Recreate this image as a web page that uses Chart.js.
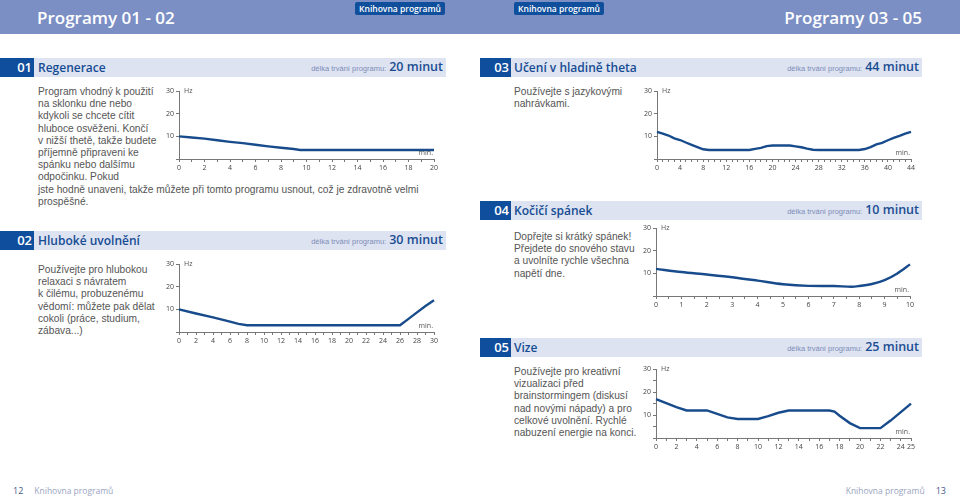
<!DOCTYPE html>
<html>
<head>
<meta charset="utf-8">
<script src="https://cdn.jsdelivr.net/npm/chart.js@4.4.0/dist/chart.umd.min.js"></script>
<style>
  body { margin: 0; width: 960px; height: 500px; position: relative; overflow: hidden; background: #fff; font-family: "Liberation Sans", Arial, sans-serif; }
  .abs { position: absolute; }
  .head { top: 0; height: 34px; background: #7b8fc5; }
  .ptitle { top: 6px; font: 600 17px "Open Sans"; color: #fff; white-space: nowrap; }
  .badge { top: 2px; height: 13px; width: 90px; background: #0f4f9c; color: #fff; font: 600 8.5px "Open Sans"; text-align: center; line-height: 13px; border-radius: 2px; }
  .bar { height: 19px; background: #dde3f1; }
  .num { height: 19px; background: #0e4e9c; color: #fff; font: 600 13px "Open Sans"; text-align: right; line-height: 19px; padding-right: 2px; box-sizing: border-box; }
  .stitle { font: 600 12px "Open Sans"; color: #164c93; line-height: 19px; white-space: nowrap; }
  .dur { line-height: 19px; text-align: right; color: #1a4c92; font: 600 12.5px "Open Sans"; white-space: nowrap; }
  .dur small { font: 7.5px "Liberation Sans"; color: #7d8db8; margin-right: 3px; }
  .txt { font-size: 10.2px; line-height: 12.2px; color: #555; white-space: nowrap; }
  .foot { top: 485px; font: 8.5px "Open Sans"; color: #9aa4c2; line-height: 12px; }
  .pg { color: #4a5a8c; font-size: 9px; }
  canvas { position: absolute; }
</style>
</head>
<body>
<!-- page headers -->
<div class="abs head" style="left:0;width:960px"></div>
<div class="abs ptitle" style="left:37px">Programy 01 - 02</div>
<div class="abs ptitle" style="right:38px">Programy 03 - 05</div>
<div class="abs badge" style="left:355px">Knihovna programů</div>
<div class="abs badge" style="left:514px">Knihovna programů</div>

<!-- 01 -->
<div class="abs num" style="left:0;top:58px;width:34px">01</div>
<div class="abs bar" style="left:34px;top:58px;width:412px"></div>
<div class="abs stitle" style="left:38px;top:58px">Regenerace</div>
<div class="abs dur" style="right:517px;top:58px"><small>délka trvání programu:</small>20 minut</div>
<div class="abs txt" style="left:38px;top:86px">Program vhodný k použití<br>na sklonku dne nebo<br>kdykoli se chcete cítit<br>hluboce osvěženi. Končí<br>v nižší thetě, takže budete<br>příjemně připraveni ke<br>spánku nebo dalšímu<br>odpočinku. Pokud<br>jste hodně unaveni, takže můžete při tomto programu usnout, což je zdravotně velmi<br>prospěšné.</div>

<!-- 02 -->
<div class="abs num" style="left:0;top:231px;width:34px">02</div>
<div class="abs bar" style="left:34px;top:231px;width:412px"></div>
<div class="abs stitle" style="left:38px;top:231px">Hluboké uvolnění</div>
<div class="abs dur" style="right:517px;top:231px"><small>délka trvání programu:</small>30 minut</div>
<div class="abs txt" style="left:38px;top:264px">Používejte pro hlubokou<br>relaxaci s návratem<br>k čilému, probuzenému<br>vědomí: můžete pak dělat<br>cokoli (práce, studium,<br>zábava...)</div>

<!-- 03 -->
<div class="abs num" style="left:480px;top:58px;width:31px">03</div>
<div class="abs bar" style="left:511px;top:58px;width:411px"></div>
<div class="abs stitle" style="left:514px;top:58px">Učení v hladině theta</div>
<div class="abs dur" style="right:41px;top:58px"><small>délka trvání programu:</small>44 minut</div>
<div class="abs txt" style="left:514px;top:86px">Používejte s jazykovými<br>nahrávkami.</div>

<!-- 04 -->
<div class="abs num" style="left:480px;top:201px;width:31px">04</div>
<div class="abs bar" style="left:511px;top:201px;width:411px"></div>
<div class="abs stitle" style="left:514px;top:201px">Kočičí spánek</div>
<div class="abs dur" style="right:41px;top:201px"><small>délka trvání programu:</small>10 minut</div>
<div class="abs txt" style="left:514px;top:231px">Dopřejte si krátký spánek!<br>Přejdete do snového stavu<br>a uvolníte rychle všechna<br>napětí dne.</div>

<!-- 05 -->
<div class="abs num" style="left:480px;top:338px;width:31px">05</div>
<div class="abs bar" style="left:511px;top:338px;width:411px"></div>
<div class="abs stitle" style="left:514px;top:338px">Vize</div>
<div class="abs dur" style="right:41px;top:338px"><small>délka trvání programu:</small>25 minut</div>
<div class="abs txt" style="left:514px;top:366px">Používejte pro kreativní<br>vizualizaci před<br>brainstormingem (diskusí<br>nad novými nápady) a pro<br>celkové uvolnění. Rychlé<br>nabuzení energie na konci.</div>

<!-- footer -->
<div class="abs foot" style="left:13px"><span class="pg">12</span>&nbsp;&nbsp;&nbsp;&nbsp;&nbsp;Knihovna programů</div>
<div class="abs foot" style="right:14px">Knihovna programů&nbsp;&nbsp;&nbsp;&nbsp;&nbsp;<span class="pg">13</span></div>

<canvas id="c1" width="287" height="92" style="left:155px;top:85px"></canvas>
<canvas id="c2" width="287" height="92" style="left:155px;top:258px"></canvas>
<canvas id="c3" width="286" height="92" style="left:633px;top:85px"></canvas>
<canvas id="c4" width="286" height="92" style="left:632px;top:222px"></canvas>
<canvas id="c5" width="287" height="93" style="left:632px;top:363px"></canvas>

<script>
// 01 Regenerace (min -> Hz)
const regX = [0, 1, 2, 3, 4, 5, 6, 7, 8, 9, 9.5, 20];
const regHz = [10, 9.5, 9, 8.3, 7.6, 7, 6.3, 5.6, 5, 4.4, 4, 4];
// 02 Hluboké uvolnění
const hluX = [0, 2, 4, 6, 7, 8, 26, 27, 28, 29, 30];
const hluHz = [10, 8.2, 6.5, 4.6, 3.6, 3, 3, 5.8, 8.7, 11.5, 14];
// 03 Učení v hladině theta
const uceX = [0, 1, 2, 3, 4, 5, 6, 7, 8, 9, 16, 17, 18, 19, 20, 23, 24, 25, 26, 27, 28, 35, 36, 37, 38, 39, 40, 41, 42, 43, 44];
const uceHz = [12, 11.2, 10.4, 9.1, 8.4, 7.3, 6.3, 5.3, 4.3, 4, 4, 4.5, 4.9, 5.7, 6, 6, 5.6, 5.2, 4.6, 4.1, 4, 4, 4.4, 5.3, 6.5, 7.1, 8.3, 9.3, 10.2, 11.2, 12];
// 04 Kočičí spánek
const kocX = [0, 1, 2, 3, 4, 5, 6, 7, 7.7, 8, 8.5, 9, 9.5, 10];
const kocHz = [12, 10.6, 9.5, 8.3, 6.8, 5.2, 4.5, 4.4, 4.1, 4.4, 5.3, 7, 10, 14];
// 05 Vize
const vizX = [0, 1, 2, 3, 5, 6, 7, 8, 10, 11, 12, 13, 17, 17.5, 18, 19, 20, 22, 23, 24, 25];
const vizHz = [17, 15.2, 13.5, 12, 12, 10.5, 9, 8.3, 8.3, 9.5, 11, 12, 12, 11.5, 9.7, 6.5, 4.3, 4.3, 7.6, 11.3, 15];

const hzTicks = [10, 20, 30];

Chart.defaults.font.family = '"Open Sans", sans-serif';

// "Hz" and "min." notes next to the axes
const axisNotes = {
  id: 'axisNotes',
  afterDraw(chart) {
    const { ctx, chartArea: a } = chart;
    ctx.save();
    ctx.font = '7px "Open Sans"';
    ctx.fillStyle = '#555';
    ctx.textAlign = 'left';
    ctx.textBaseline = 'middle';
    ctx.fillText('Hz', a.left + 5, a.top);
    ctx.textAlign = 'right';
    ctx.textBaseline = 'bottom';
    ctx.fillText('min.', a.right - 1, a.bottom - 3);
    ctx.restore();
  }
};

function drawChart(id, xs, ys, xMax, step, labelEvery, smooth) {
  new Chart(document.getElementById(id), {
    type: 'line',
    data: {
      datasets: [{
        data: xs.map((x, i) => ({ x: x, y: ys[i] })),
        borderColor: '#174b8c',
        borderWidth: 2.4,
        pointRadius: 0,
        tension: smooth ? 0.4 : 0,
        cubicInterpolationMode: smooth ? 'monotone' : 'default',
        clip: false
      }]
    },
    options: {
      responsive: false,
      animation: false,
      events: [],
      layout: { padding: { top: 6, right: 8 } },
      plugins: { legend: { display: false }, tooltip: { enabled: false } },
      scales: {
        x: {
          type: 'linear', min: 0, max: xMax,
          afterFit(s) { s.height = 18; },
          border: { color: '#777', width: 1 },
          grid: { drawOnChartArea: false, tickLength: 3, tickColor: '#777' },
          ticks: {
            stepSize: step, autoSkip: false, maxRotation: 0, padding: 2,
            color: '#444', font: { size: 7 },
            callback: v => (v % labelEvery === 0 || v === xMax) ? v : ''
          }
        },
        y: {
          min: 0, max: 30,
          afterFit(s) { s.width = 24; },
          border: { color: '#777', width: 1 },
          grid: { drawOnChartArea: false, tickLength: 3, tickColor: '#777' },
          ticks: {
            stepSize: 5, padding: 2, color: '#444', font: { size: 7 },
            callback: v => hzTicks.includes(v) ? v : ''
          }
        }
      }
    },
    plugins: [axisNotes]
  });
}

drawChart('c1', regX, regHz, 20, 1, 2, false);
drawChart('c2', hluX, hluHz, 30, 1, 2, false);
drawChart('c3', uceX, uceHz, 44, 1, 4, false);
drawChart('c4', kocX, kocHz, 10, 0.5, 1, true);
drawChart('c5', vizX, vizHz, 25, 1, 2, false);
</script>
</body>
</html>
